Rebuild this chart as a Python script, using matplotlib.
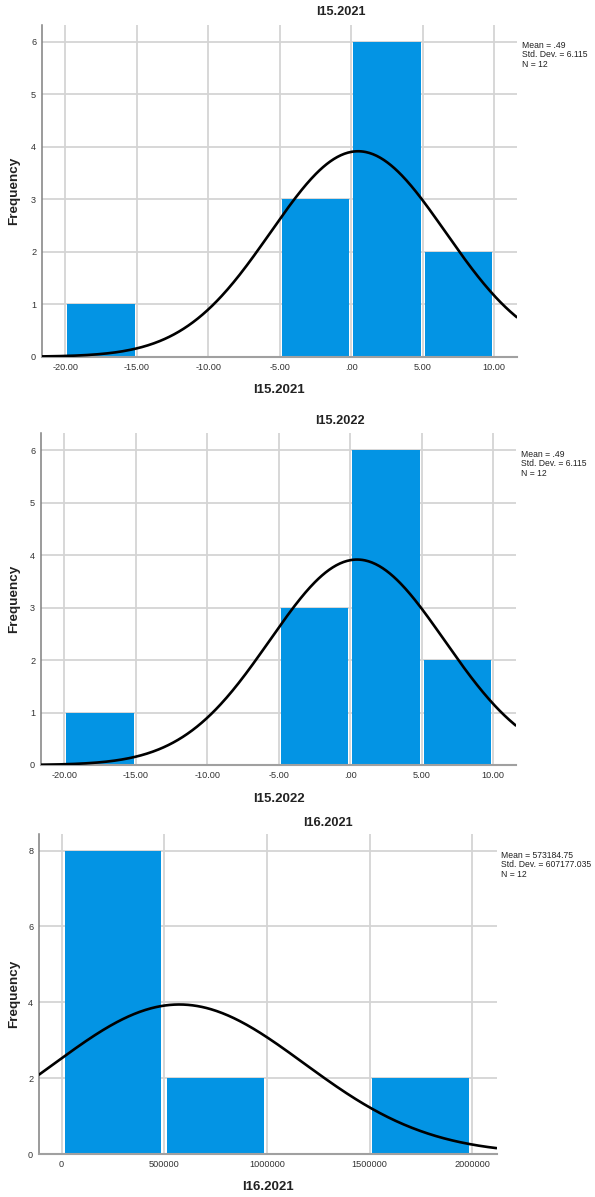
import numpy as np
import matplotlib
matplotlib.use("Agg")
import matplotlib.pyplot as plt

plt.rcParams['font.family'] = ['Liberation Sans', 'DejaVu Sans']

# ---- data ----
titles = ["I15.2021", "I15.2022", "I16.2021"]
bin_edges_1 = [-20, -15, -10, -5, 0, 5, 10]
counts_1 = [1, 0, 0, 3, 6, 2]
bin_edges_2 = [-20, -15, -10, -5, 0, 5, 10]
counts_2 = [1, 0, 0, 3, 6, 2]
bin_edges_3 = [0, 500000, 1000000, 1500000, 2000000]
counts_3 = [8, 2, 0, 2]
means = [0.49, 0.49, 573184.75]
sds = [6.115, 6.115, 607177.035]
ns = [12, 12, 12]
stat_texts = [["Mean = .49", "Std. Dev. = 6.115", "N = 12"],
              ["Mean = .49", "Std. Dev. = 6.115", "N = 12"],
              ["Mean = 573184.75", "Std. Dev. = 607177.035", "N = 12"]]
xticks_1 = [-20, -15, -10, -5, 0, 5, 10]
xticklabels_1 = ["-20.00", "-15.00", "-10.00", "-5.00", ".00", "5.00", "10.00"]
xticks_3 = [0, 500000, 1000000, 1500000, 2000000]
xticklabels_3 = ["0", "500000", "1000000", "1500000", "2000000"]
yticks_1 = [0, 1, 2, 3, 4, 5, 6]
yticks_3 = [0, 2, 4, 6, 8]

W, H = 595, 1197
fig = plt.figure(figsize=(W / 100, H / 100), dpi=100)

BAR = "#0394E4"
GRID = "#d4d4d4"

def fx(x):
    return x / W

def fy(y):
    return 1 - y / H

panels = [
    dict(edges=bin_edges_1, counts=counts_1, xticks=xticks_1, xtl=xticklabels_1, yticks=yticks_1,
         box=(41.7, 25, 517.3, 356.7), xlim=(-21.65, 11.63), ylim=(0, 6.32),
         title_xy=(341, 12), xlabel_xy=(279, 390), stat_xy=(522, 41)),
    dict(edges=bin_edges_2, counts=counts_2, xticks=xticks_1, xtl=xticklabels_1, yticks=yticks_1,
         box=(40.7, 433.3, 516.3, 765), xlim=(-21.65, 11.63), ylim=(0, 6.32),
         title_xy=(340, 421), xlabel_xy=(279, 799), stat_xy=(521, 450)),
    dict(edges=bin_edges_3, counts=counts_3, xticks=xticks_3, xtl=xticklabels_3, yticks=yticks_3,
         box=(38.7, 834.3, 497, 1154), xlim=(-112000, 2121000), ylim=(0, 8.43),
         title_xy=(328, 823), xlabel_xy=(268, 1187), stat_xy=(501, 851)),
]

for i, p in enumerate(panels):
    x0, y0, x1, y1 = p["box"]
    ax = fig.add_axes([fx(x0), fy(y1), (x1 - x0) / W, (y1 - y0) / H])
    edges = np.array(p["edges"], dtype=float)
    counts = np.array(p["counts"], dtype=float)
    bw = edges[1] - edges[0]
    centers = (edges[:-1] + edges[1:]) / 2
    ax.bar(centers, counts, width=bw * 0.945, color=BAR, edgecolor="none", zorder=2)
    xs = np.linspace(p["xlim"][0], p["xlim"][1], 400)
    m, s, n = means[i], sds[i], ns[i]
    ys = n * bw / (s * np.sqrt(2 * np.pi)) * np.exp(-0.5 * ((xs - m) / s) ** 2)
    ax.plot(xs, ys, color="black", lw=1.9, zorder=3, solid_capstyle="butt")
    ax.set_xlim(*p["xlim"])
    ax.set_ylim(*p["ylim"])
    ax.set_xticks(p["xticks"])
    ax.set_xticklabels(p["xtl"])
    ax.set_yticks(p["yticks"])
    ax.grid(True, color=GRID, lw=1.3, zorder=0)
    ax.set_axisbelow(True)
    for sp in ["top", "right"]:
        ax.spines[sp].set_visible(False)
    ax.spines["left"].set_color("#808080")
    ax.spines["left"].set_linewidth(1.1)
    ax.spines["bottom"].set_color("#a0a0a0")
    ax.spines["bottom"].set_linewidth(1.5)
    ax.tick_params(length=0, labelsize=6.6, labelcolor="#333333")
    ax.tick_params(axis="x", pad=4.5)
    ax.tick_params(axis="y", pad=4)
    ax.set_facecolor("white")

    fig.text(fx(p["title_xy"][0]), fy(p["title_xy"][1]), titles[i], ha="center", va="center",
             fontsize=9.2, fontweight="bold", color="#222222")
    fig.text(fx(p["xlabel_xy"][0]), fy(p["xlabel_xy"][1]), titles[i], ha="center", va="center",
             fontsize=9.5, fontweight="bold", color="#222222")
    fig.text(fx(14), fy((y0 + y1) / 2), "Frequency", ha="center", va="center", rotation=90,
             fontsize=9.7, fontweight="bold", color="#222222")
    fig.text(fx(p["stat_xy"][0]), fy(p["stat_xy"][1]), "\n".join(stat_texts[i]), ha="left", va="top",
             fontsize=6.2, color="#222222", linespacing=1.05)

fig.savefig("out.png", dpi=100, facecolor="white")
